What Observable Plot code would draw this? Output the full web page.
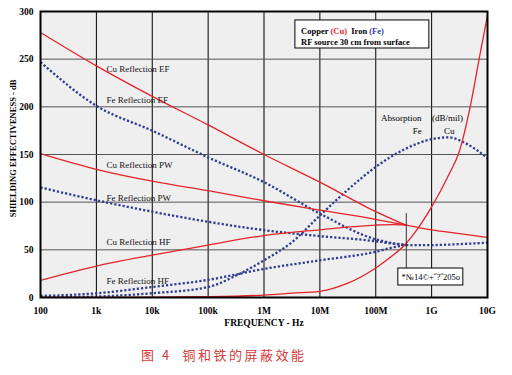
<!DOCTYPE html>
<html>
<head>
<meta charset="utf-8">
<script src="https://cdn.jsdelivr.net/npm/d3@7"></script>
<script src="https://cdn.jsdelivr.net/npm/@observablehq/plot@0.6"></script>
<style>
  body { margin: 0; background: white; }
  #wrap { position: relative; width: 512px; height: 375px; }
  #caption { position: absolute; left: 141px; top: 346px; font-family: "Noto Sans CJK SC", sans-serif; font-size: 13px; line-height: 18px; letter-spacing: 2.5px; color: #d43b3b; white-space: pre; }
</style>
</head>
<body>
<div id="wrap"><div id="chart"></div><div id="caption">图 4  铜和铁的屏蔽效能</div></div>
<script>
// ---- data ----
const fTicks = [1e2, 1e3, 1e4, 1e5, 1e6, 1e7, 1e8, 1e9, 1e10];
const fTickLabels = ["100", "1k", "10k", "100k", "1M", "10M", "100M", "1G", "10G"];
const yTicks = [0, 50, 100, 150, 200, 250, 300];

// reflection curves (Hz) up to where the three field types merge
const freqRefl = [1e2, 1e3, 1e4, 1e5, 1e6, 1e7, 1e8, 2e8, 3.5e8];
const cuEF = [278, 243, 211, 181, 150, 121, 90, 82, 76];
const cuPW = [151, 134.5, 122, 112, 101.5, 91.6, 82, 78.5, 76];
const cuHF = [18, 33, 44.5, 55, 65, 71, 76, 76.5, 76];
const feEF = [247, 201, 175, 147, 121, 88, 61, 57, 55];
const fePW = [115.4, 102, 90, 79.4, 70.7, 64.4, 59, 56.5, 55];
const feHF = [1.6, 4.4, 11, 18.5, 30, 39, 48, 52.5, 55];
// merged reflection above the transition
const freqHigh = [3.5e8, 1e9, 3.16e9, 1e10];
const cuHigh = [76, 71, 67, 63];
const feHigh = [55, 55, 56, 57.5];

// absorption (dB/mil)
const freqCuAbs = [1e2, 1e3, 1e4, 1e5, 1e6, 3.16e6, 1e7, 3.16e7, 1e8, 2e8, 3.16e8, 5e8, 1e9, 2e9, 3.16e9, 4.9e9, 7.4e9, 1e10];
const cuAbs = [0.1, 0.2, 0.3, 0.8, 2.5, 4.5, 6.5, 15, 31, 44, 54, 68, 95, 128, 154, 200, 256, 296];
const freqFeAbs = [1e2, 1e3, 1e4, 1e5, 3.16e5, 1e6, 3.16e6, 1e7, 3.16e7, 1e8, 3.16e8, 1e9, 2e9, 4e9, 6.3e9, 1e10];
const feAbs = [0, 1, 4.5, 11, 23, 39, 58, 86, 113, 137, 155, 166, 168, 162, 155, 146];

const curveLabels = ["Cu Reflection EF", "Fe Reflection EF", "Cu Reflection PW", "Fe Reflection PW", "Cu Reflection HF", "Fe Reflection HF"];
const curveLabelY = [240, 206.6, 138.5, 104.2, 58, 17.1];

// ---- build tables ----
function rows(name, fs, vs) { return fs.map((f, i) => ({s: name, f, v: vs[i]})); }
const cuRows = [
  ...rows("cuEF", freqRefl, cuEF), ...rows("cuPW", freqRefl, cuPW), ...rows("cuHF", freqRefl, cuHF),
  ...rows("cuHigh", freqHigh, cuHigh), ...rows("cuAbs", freqCuAbs, cuAbs)
];
const feRows = [
  ...rows("feEF", freqRefl, feEF), ...rows("fePW", freqRefl, fePW), ...rows("feHF", freqRefl, feHF),
  ...rows("feHigh", freqHigh, feHigh), ...rows("feAbs", freqFeAbs, feAbs)
];
const labelRows = curveLabels.map((t, i) => ({t, f: Math.pow(10, 3.18), v: curveLabelY[i]}));
const tickMap = new Map(fTicks.map((f, i) => [f, fTickLabels[i]]));

const RED = "#e3242b", BLUE = "#2f3c8f";
const serif = "'Liberation Serif', 'DejaVu Serif', serif";
const P = (e) => Math.pow(10, e);

const chart = Plot.plot({
  width: 512, height: 335,
  marginLeft: 40, marginRight: 25, marginTop: 11, marginBottom: 38,
  x: {type: "log", domain: [1e2, 1e10]},
  y: {domain: [0, 300]},
  style: {fontFamily: serif, fontSize: "9px", background: "white", color: "black"},
  marks: [
    Plot.frame({fill: "#efefef"}),
    Plot.ruleX(fTicks.slice(1, -1), {stroke: "black", strokeWidth: 1}),
    Plot.ruleY(yTicks.slice(1, -1), {stroke: "#555", strokeWidth: 1}),
    Plot.line(feRows, {x: "f", y: "v", z: "s", stroke: BLUE, strokeWidth: 2.3, strokeDasharray: "2.2,2", strokeLinecap: "butt", curve: "monotone-x", clip: true}),
    Plot.line(cuRows, {x: "f", y: "v", z: "s", stroke: RED, strokeWidth: 1.3, curve: "monotone-x", clip: true}),
    Plot.text(labelRows, {x: "f", y: "v", text: "t", textAnchor: "start", fontSize: 9, fill: "#111"}),
    // absorption annotation
    Plot.text(["Absorption"], {x: P(8.095), y: 187.8, textAnchor: "start", fontSize: 9}),
    Plot.text(["(dB/mil)"], {x: P(9.007), y: 187.8, textAnchor: "start", fontSize: 9}),
    Plot.text(["Fe"], {x: P(8.744), y: 174.6, fontSize: 9}),
    Plot.text(["Cu"], {x: P(9.317), y: 174.6, fontSize: 9}),
    // legend box
    Plot.rect([0], {x1: P(6.562), x2: P(8.959), y1: 261.2, y2: 290.6, fill: "white", stroke: "black", strokeWidth: 1}),
    Plot.text(["Copper (Cu)  Iron (Fe)"], {x: P(6.664), y: 279.3, textAnchor: "start", fontSize: 8.5, fontWeight: "bold", className: "lg1"}),
    Plot.text(["RF source 30 cm from surface"], {x: P(6.664), y: 267.5, textAnchor: "start", fontSize: 8.5, fontWeight: "bold"}),
    // small garbled box
    Plot.ruleX([P(8.547)], {y1: 30.4, y2: 88.1, stroke: "#333", strokeWidth: 1}),
    Plot.rect([0], {x1: P(8.404), x2: P(9.567), y1: 12.6, y2: 30.4, fill: "white", stroke: "black", strokeWidth: 1}),
    Plot.text(["*№14©+˝?˝205ο"], {x: P(8.986), y: 21, fontSize: 8.5}),
    // axes
    Plot.axisX({ticks: fTicks, tickFormat: d => tickMap.get(d), tickSize: 0, tickPadding: 10, fontWeight: "bold", fontSize: 9.5, label: null}),
    Plot.axisY({ticks: yTicks, tickSize: 0, tickPadding: 7, fontWeight: "bold", fontSize: 9.5, label: null}),
    Plot.text(["FREQUENCY - Hz"], {frameAnchor: "bottom", dy: 28, fontWeight: "bold", fontSize: 9.5}),
    Plot.text(["SHIELDING EFFECTIVENESS - dB"], {frameAnchor: "left", textAnchor: "middle", rotate: -90, dx: -27, dy: -6, fontWeight: "bold", fontSize: 8.5}),
    Plot.frame({stroke: "black", strokeWidth: 2})
  ]
});
document.getElementById("chart").appendChild(chart);

// colour the parenthesised parts of the legend line
const t = chart.querySelector("g.lg1 text");
if (t) {
  t.textContent = "";
  const parts = [["Copper ", "black"], ["(Cu)", RED], ["  Iron ", "black"], ["(Fe)", BLUE]];
  for (const [s, c] of parts) {
    const sp = document.createElementNS("http://www.w3.org/2000/svg", "tspan");
    sp.textContent = s; sp.setAttribute("fill", c); sp.setAttribute("style", "white-space:pre");
    t.appendChild(sp);
  }
  t.setAttribute("xml:space", "preserve");
}
</script>
</body>
</html>
